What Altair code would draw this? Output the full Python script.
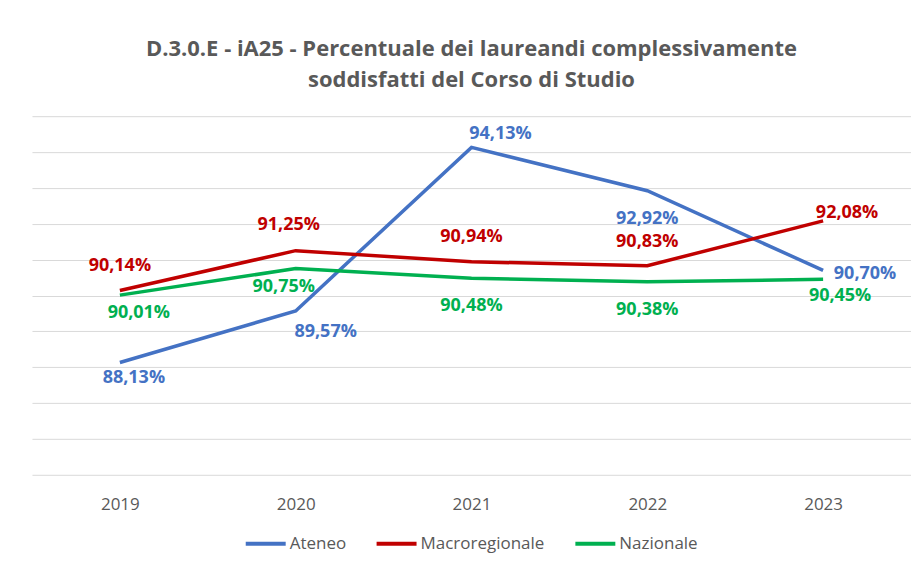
import altair as alt
import pandas as pd

years = ["2019", "2020", "2021", "2022", "2023"]
series_names = ["Ateneo", "Macroregionale", "Nazionale"]
ateneo = [88.13, 89.57, 94.13, 92.92, 90.70]
macroregionale = [90.14, 91.25, 90.94, 90.83, 92.08]
nazionale = [90.01, 90.75, 90.48, 90.38, 90.45]
colors = ["#4472C4", "#C00000", "#00B050"]
grid_values = [85, 86, 87, 88, 89, 90, 91, 92, 93, 94, 95]

# label placement offsets (pixels), per series and year
label_dx = {
    "Ateneo": [14, 30, 29, 0, 42],
    "Macroregionale": [0, -7, 0, 0, 24],
    "Nazionale": [19, -12, 0, 0, 17],
}
label_dy = {
    "Ateneo": [15, 21, -13, 28, 4],
    "Macroregionale": [-24, -26, -25, -24, -8],
    "Nazionale": [18, 18, 28, 28, 17],
}

rows = []
for name, vals in zip(series_names, [ateneo, macroregionale, nazionale]):
    for i, (yr, v) in enumerate(zip(years, vals)):
        rows.append({
            "Anno": yr, "Serie": name, "Valore": v,
            "Etichetta": f"{v:.2f}".replace(".", ",") + "%",
            "dx": label_dx[name][i], "dy": label_dy[name][i],
        })
df = pd.DataFrame(rows)

FONT = "Open Sans"
color_scale = alt.Scale(domain=series_names, range=colors)

x_enc = alt.X("Anno:N", sort=years, scale=alt.Scale(type="point", padding=0.5),
              axis=alt.Axis(title=None, labelFont=FONT, labelFontSize=17, labelColor="#595959",
                            ticks=False, domain=False, grid=False, labelPadding=22, labelAngle=0))
y_enc = alt.Y("Valore:Q", scale=alt.Scale(domain=[85, 95], zero=False, nice=False),
              axis=alt.Axis(title=None, labels=False, ticks=False, domain=False,
                            values=grid_values, tickCount=11, grid=True,
                            gridColor="#D9D9D9", gridWidth=1))

lines = alt.Chart(df).mark_line(strokeWidth=3.5).encode(
    x=x_enc, y=y_enc,
    color=alt.Color("Serie:N", scale=color_scale, sort=series_names,
                    legend=alt.Legend(title=None, orient="none", direction="horizontal",
                                      legendX=212, legendY=406,
                                      symbolType="stroke", symbolSize=1600, symbolStrokeWidth=4,
                                      labelFont=FONT, labelFontSize=17, labelColor="#595959",
                                      labelOffset=2, columnPadding=22)),
    detail="Serie:N",
)

labels = alt.Chart(df).mark_text(
    font=FONT, fontSize=18, fontWeight="bold",
    dx=alt.ExprRef("datum.dx"), dy=alt.ExprRef("datum.dy"),
).encode(
    x=x_enc,
    y=y_enc,
    text="Etichetta:N",
    color=alt.Color("Serie:N", scale=color_scale, legend=None),
)

chart = alt.layer(lines, labels).properties(
    width=880, height=359,
    autosize=alt.AutoSizeParams(type="none"),
    padding={"left": 24, "top": 108, "right": 0, "bottom": 84},
    title=alt.TitleParams(
        text=["D.3.0.E - iA25 - Percentuale dei laureandi complessivamente",
              "soddisfatti del Corso di Studio"],
        font=FONT, fontSize=22, fontWeight="bold", color="#595959",
        anchor="middle", lineHeight=31, offset=24,
    ),
).configure(background="white").configure_view(stroke=None)

chart.save("out.html", embed_options={"renderer": "svg", "actions": False})
